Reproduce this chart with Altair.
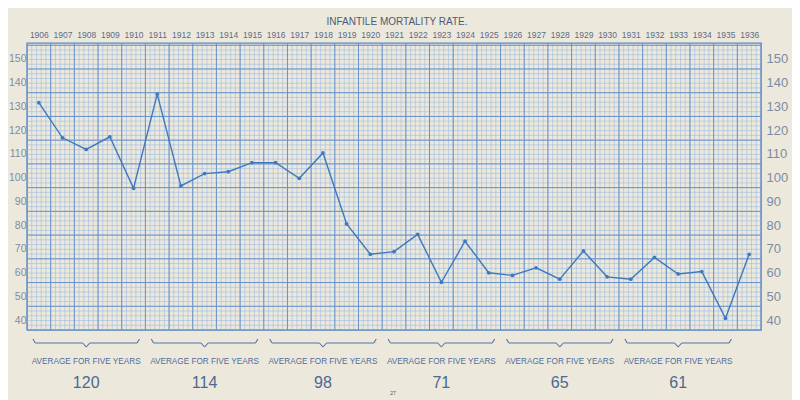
import altair as alt
import numpy as np
import pandas as pd

# ---- data ----
years = list(range(1906, 1937))
rates = [131.6, 116.8, 111.9, 117.2, 95.5, 135.2, 96.5, 101.7, 102.5, 106.3,
         106.3, 99.7, 110.4, 80.5, 67.7, 68.8, 76.1, 55.9, 73.2, 59.9,
         58.8, 62.0, 57.2, 69.1, 58.2, 57.2, 66.4, 59.4, 60.4, 40.7, 67.7]
group_centers = [1908, 1913, 1918, 1923, 1928, 1933]
group_averages = ["120", "114", "98", "71", "65", "61"]
y_ticks = [40, 50, 60, 70, 80, 90, 100, 110, 120, 130, 140, 150]
title_text = "INFANTILE MORTALITY RATE."
caption_text = "AVERAGE FOR FIVE YEARS"

# ---- layout constants ----
W, H = 734, 287
X_LO, X_HI = 1905.5, 1936.5
Y_LO, Y_HI = 35.79, 156.74
PXU = H / (Y_HI - Y_LO)

xs = alt.Scale(domain=[X_LO, X_HI], nice=False, zero=False)
ys = alt.Scale(domain=[Y_LO, Y_HI], nice=False, zero=False)

FONT = "Liberation Sans"

# grid positions (graph paper)
minor_x = pd.DataFrame({"v": X_LO + 0.2 * np.arange(0, 156)})
major_x = pd.DataFrame({"v": X_LO + np.arange(0, 32)})
minor_y = pd.DataFrame({"v": Y_LO + 2.0 * np.arange(0, 61)})
major_y = pd.DataFrame({"v": Y_LO + 10.0 * np.arange(0, 13)})

df = pd.DataFrame({"year": years, "rate": rates})
groups = pd.DataFrame({"c": group_centers, "avg": group_averages, "cap": [caption_text] * 6})

# brace segments (shape offsets in years, pixel heights below plot top)
def yv(rel_px):
    return Y_HI - rel_px / PXU

seg_shape = [(-2.25, 296, -2.15, 300), (-2.15, 300, -0.15, 300), (-0.15, 300, 0.0, 304),
             (0.0, 304, 0.15, 300), (0.15, 300, 2.15, 300), (2.15, 300, 2.25, 296)]
rows = []
for c in group_centers:
    for a, pa, b, pb in seg_shape:
        rows.append({"x1": c + a, "x2": c + b, "y1": yv(pa), "y2": yv(pb)})
braces = pd.DataFrame(rows)

MINOR_C = "#9dbbe0"
MAJOR_C = "#6893cb"
LINE_C = "#3e79be"

vmin = alt.Chart(minor_x).mark_rule(color=MINOR_C, strokeWidth=0.6).encode(
    x=alt.X("v:Q", scale=xs, axis=None))
hmin = alt.Chart(minor_y).mark_rule(color=MINOR_C, strokeWidth=0.6).encode(
    y=alt.Y("v:Q", scale=ys, axis=None))
vmaj = alt.Chart(major_x).mark_rule(color=MAJOR_C, strokeWidth=1.0).encode(
    x=alt.X("v:Q", scale=xs, axis=None))
hmaj = alt.Chart(major_y).mark_rule(color=MAJOR_C, strokeWidth=1.0).encode(
    y=alt.Y("v:Q", scale=ys, axis=alt.Axis(
        orient="right", values=y_ticks, grid=False, ticks=False, domain=False,
        labelFont=FONT, labelFontSize=13, labelColor="#7d8ba3", labelPadding=5,
        title=None)))

line = alt.Chart(df).mark_line(color=LINE_C, strokeWidth=1.4,
                               point=alt.OverlayMarkDef(color=LINE_C, size=14, filled=True)).encode(
    x=alt.X("year:Q", scale=xs, axis=alt.Axis(
        orient="top", values=years, format="d", grid=False, ticks=False, domain=False,
        labelFont=FONT, labelFontSize=8.5, labelColor="#5e6b84", labelPadding=4,
        labelOverlap=False, title=None)),
    y=alt.Y("rate:Q", scale=ys, axis=alt.Axis(
        orient="left", values=y_ticks, grid=False, ticks=False, domain=False,
        labelFont=FONT, labelFontSize=10.5, labelColor="#7d8ba3", labelPadding=1,
        title=None)),
)

brace = alt.Chart(braces).mark_rule(color="#4f74a8", strokeWidth=1.1).encode(
    x=alt.X("x1:Q", scale=xs, axis=None), x2="x2:Q",
    y=alt.Y("y1:Q", scale=ys, axis=None), y2="y2:Q")

cap = alt.Chart(groups).mark_text(font=FONT, fontSize=8.2, color="#4f6c9c").encode(
    x=alt.X("c:Q", scale=xs, axis=None), y=alt.value(319), text="cap:N")
avg = alt.Chart(groups).mark_text(font=FONT, fontSize=16, color="#4b6890").encode(
    x=alt.X("c:Q", scale=xs, axis=None), y=alt.value(340), text="avg:N")

title = alt.Chart(pd.DataFrame({"t": [title_text]})).mark_text(
    font=FONT, fontSize=10, color="#4d5a73").encode(
    x=alt.value(W / 2 + 3), y=alt.value(-21), text="t:N")
page = alt.Chart(pd.DataFrame({"t": ["27"]})).mark_text(
    font=FONT, fontSize=5, color="#555555").encode(
    x=alt.value(366), y=alt.value(350), text="t:N")

chart = alt.layer(vmin, hmin, vmaj, hmaj, line, brace, cap, avg, title, page).resolve_axis(
    y="independent", x="independent"
).properties(
    width=W, height=H,
    background="#ece9dc",
    padding={"left": 19, "top": 35, "right": 31, "bottom": 70},
    autosize=alt.AutoSizeParams(type="none"),
).configure_view(stroke="#5a86bd", strokeWidth=1.3)

chart.save("out.html", embed_options={"renderer": "svg", "actions": False})
